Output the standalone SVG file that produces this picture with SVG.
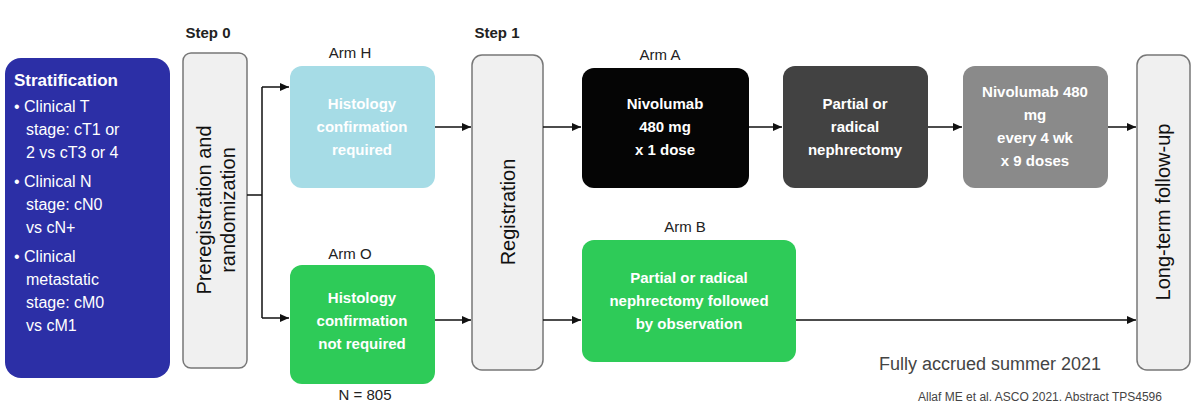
<svg xmlns="http://www.w3.org/2000/svg" width="1200" height="411" viewBox="0 0 1200 411">
<defs>
<marker id="ah" markerWidth="10" markerHeight="10" refX="9" refY="5" orient="auto" markerUnits="userSpaceOnUse"><path d="M0,1 L9,5 L0,9 z" fill="#111"/></marker>
<style>
text{font-family:"Liberation Sans",Arial,sans-serif}
.lbl{font-size:15px;fill:#222;text-anchor:middle}
.bw{font-size:15px;font-weight:bold;fill:#fff;text-anchor:middle}
.vbox{fill:#f0f0f0;stroke:#777;stroke-width:1.5}
.vt{font-size:20px;fill:#111;text-anchor:middle}
.c{stroke:#111;stroke-width:1.5;fill:none}
.ca{stroke:#111;stroke-width:1.5;fill:none;marker-end:url(#ah)}
</style>
</defs>
<rect width="1200" height="411" fill="#fff"/>
<text x="208" y="38" class="lbl" font-weight="bold">Step 0</text>
<text x="497" y="38" class="lbl" font-weight="bold">Step 1</text>
<g id="strat">
<rect x="5" y="58" width="165" height="320" rx="16" fill="#2c2fa6"/>
<text x="14" y="86" font-size="17" font-weight="bold" fill="#fff">Stratification</text>
<g font-size="16" fill="#fff">
<text x="14" y="112">• Clinical T</text><text x="26" y="135">stage: cT1 or</text><text x="26" y="158">2 vs cT3 or 4</text>
<text x="14" y="187">• Clinical N</text><text x="26" y="210">stage: cN0</text><text x="26" y="233">vs cN+</text>
<text x="14" y="262">• Clinical</text><text x="26" y="285">metastatic</text><text x="26" y="308">stage: cM0</text><text x="26" y="331">vs cM1</text>
</g>
</g>
<g id="prereg">
<rect class="vbox" x="183" y="53" width="64" height="315" rx="8"/>
<text class="vt" transform="translate(215,210) rotate(-90)"><tspan x="0" y="-4">Preregistration and</tspan><tspan x="0" y="20">randomization</tspan></text>
</g>
<g id="armH">
<text x="350" y="58" class="lbl">Arm H</text>
<rect x="290" y="66" width="145" height="122" rx="12" fill="#a6dce6"/>
<text class="bw"><tspan x="362" y="109">Histology</tspan><tspan x="362" y="132">confirmation</tspan><tspan x="362" y="155">required</tspan></text>
</g>
<g id="armO">
<text x="350" y="259" class="lbl">Arm O</text>
<rect x="290" y="265" width="145" height="119" rx="12" fill="#2ecb58"/>
<text class="bw"><tspan x="362" y="303">Histology</tspan><tspan x="362" y="326">confirmation</tspan><tspan x="362" y="349">not required</tspan></text>
<text x="365" y="400" class="lbl">N = 805</text>
</g>
<g id="reg">
<rect class="vbox" x="472" y="55" width="71" height="315" rx="10"/>
<text class="vt" transform="translate(515,212) rotate(-90)">Registration</text>
</g>
<g id="armA">
<text x="660" y="60" class="lbl">Arm A</text>
<rect x="582" y="68" width="167" height="120" rx="12" fill="#050505"/>
<text class="bw"><tspan x="665" y="109">Nivolumab</tspan><tspan x="665" y="132">480 mg</tspan><tspan x="665" y="155">x 1 dose</tspan></text>
</g>
<g id="neph">
<rect x="783" y="66" width="145" height="122" rx="12" fill="#424242"/>
<text class="bw"><tspan x="855" y="109">Partial or</tspan><tspan x="855" y="132">radical</tspan><tspan x="855" y="155">nephrectomy</tspan></text>
</g>
<g id="nivo">
<rect x="963" y="66" width="145" height="122" rx="12" fill="#8a8a8a"/>
<text class="bw"><tspan x="1035" y="97">Nivolumab 480</tspan><tspan x="1035" y="120">mg</tspan><tspan x="1035" y="143">every 4 wk</tspan><tspan x="1035" y="166">x 9 doses</tspan></text>
</g>
<g id="armB">
<text x="685" y="232" class="lbl">Arm B</text>
<rect x="582" y="240" width="214" height="122" rx="12" fill="#2ecb58"/>
<text class="bw"><tspan x="689" y="283">Partial or radical</tspan><tspan x="689" y="306">nephrectomy followed</tspan><tspan x="689" y="329">by observation</tspan></text>
</g>
<g id="ltfu">
<rect class="vbox" x="1137" y="55" width="53" height="315" rx="10"/>
<text class="vt" transform="translate(1170,212) rotate(-90)">Long-term follow-up</text>
</g>
<g id="connectors">
<path class="c" d="M247,195 H262 M262,87 V318"/>
<path class="ca" d="M262,87 H289"/>
<path class="ca" d="M262,318 H289"/>
<path class="ca" d="M435,127 H471"/>
<path class="ca" d="M435,320 H471"/>
<path class="ca" d="M543,127 H581"/>
<path class="ca" d="M543,320 H581"/>
<path class="ca" d="M749,127 H782"/>
<path class="ca" d="M928,127 H962"/>
<path class="ca" d="M1108,127 H1136"/>
<path class="ca" d="M796,320 H1136"/>
</g>
<text x="990" y="370" font-size="18" fill="#444" text-anchor="middle">Fully accrued summer 2021</text>
<text x="1040" y="401" font-size="12" fill="#444" text-anchor="middle">Allaf ME et al. ASCO 2021. Abstract TPS4596</text>
</svg>
